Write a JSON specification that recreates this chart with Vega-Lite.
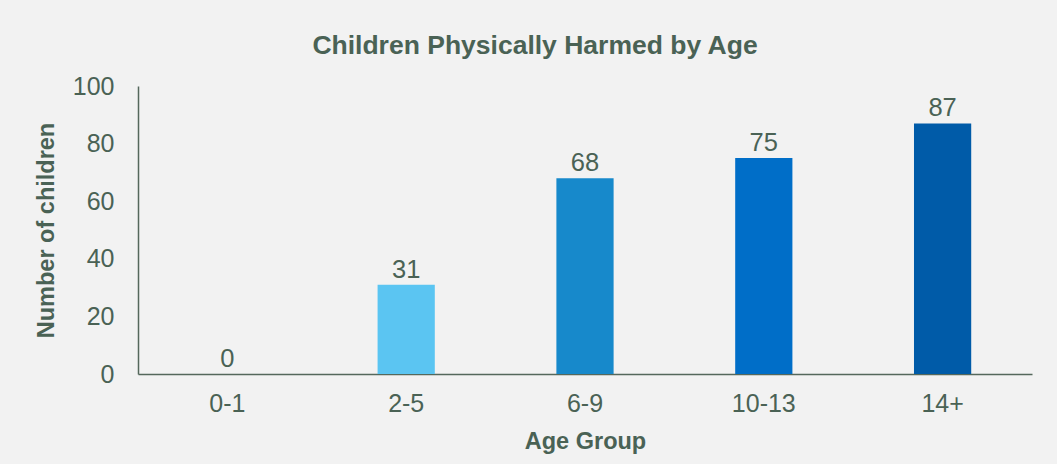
{
  "$schema": "https://vega.github.io/schema/vega-lite/v6.json",
  "width": 894,
  "height": 288,
  "autosize": {"type": "none"},
  "padding": {"left": 138, "top": 86, "right": 25, "bottom": 90},
  "background": "#f2f2f2",
  "title": {
    "text": "Children Physically Harmed by Age",
    "font": "Liberation Sans",
    "fontSize": 26.5,
    "fontWeight": "bold",
    "color": "#4a6255",
    "anchor": "middle",
    "frame": "group",
    "baseline": "alphabetic",
    "offset": -6,
    "dx": -50
  },
  "data": {
    "values": [
      {"age": "0-1", "count": 0},
      {"age": "2-5", "count": 31},
      {"age": "6-9", "count": 68},
      {"age": "10-13", "count": 75},
      {"age": "14+", "count": 87}
    ]
  },
  "config": {
    "view": {"stroke": null},
    "axis": {
      "labelFont": "Liberation Sans",
      "titleFont": "Liberation Sans",
      "labelColor": "#4a6255",
      "titleColor": "#4a6255",
      "labelFontSize": 25,
      "titleFontSize": 23.5,
      "titleFontWeight": "bold",
      "domainColor": "#55685c",
      "domainWidth": 1.5,
      "ticks": false,
      "grid": false
    }
  },
  "encoding": {
    "x": {
      "field": "age",
      "type": "nominal",
      "sort": null,
      "title": "Age Group",
      "scale": {"paddingInner": 0.68, "paddingOuter": 0.34},
      "axis": {"labelAngle": 0, "labelPadding": 17, "titlePadding": 13}
    },
    "y": {
      "field": "count",
      "type": "quantitative",
      "title": "Number of children",
      "scale": {"domain": [0, 100], "nice": false},
      "axis": {"values": [0, 20, 40, 60, 80, 100], "labelPadding": 24, "titlePadding": 14}
    }
  },
  "layer": [
    {
      "mark": {"type": "bar"},
      "encoding": {
        "color": {
          "field": "age",
          "type": "nominal",
          "scale": {
            "domain": ["0-1", "2-5", "6-9", "10-13", "14+"],
            "range": ["#a9e0f7", "#5bc5f2", "#1789cb", "#006ec8", "#005ba8"]
          },
          "legend": null
        }
      }
    },
    {
      "mark": {
        "type": "text",
        "font": "Liberation Sans",
        "fontSize": 25.5,
        "color": "#4a6255",
        "baseline": "alphabetic",
        "dy": -7
      },
      "encoding": {"text": {"field": "count", "type": "quantitative"}}
    }
  ]
}
